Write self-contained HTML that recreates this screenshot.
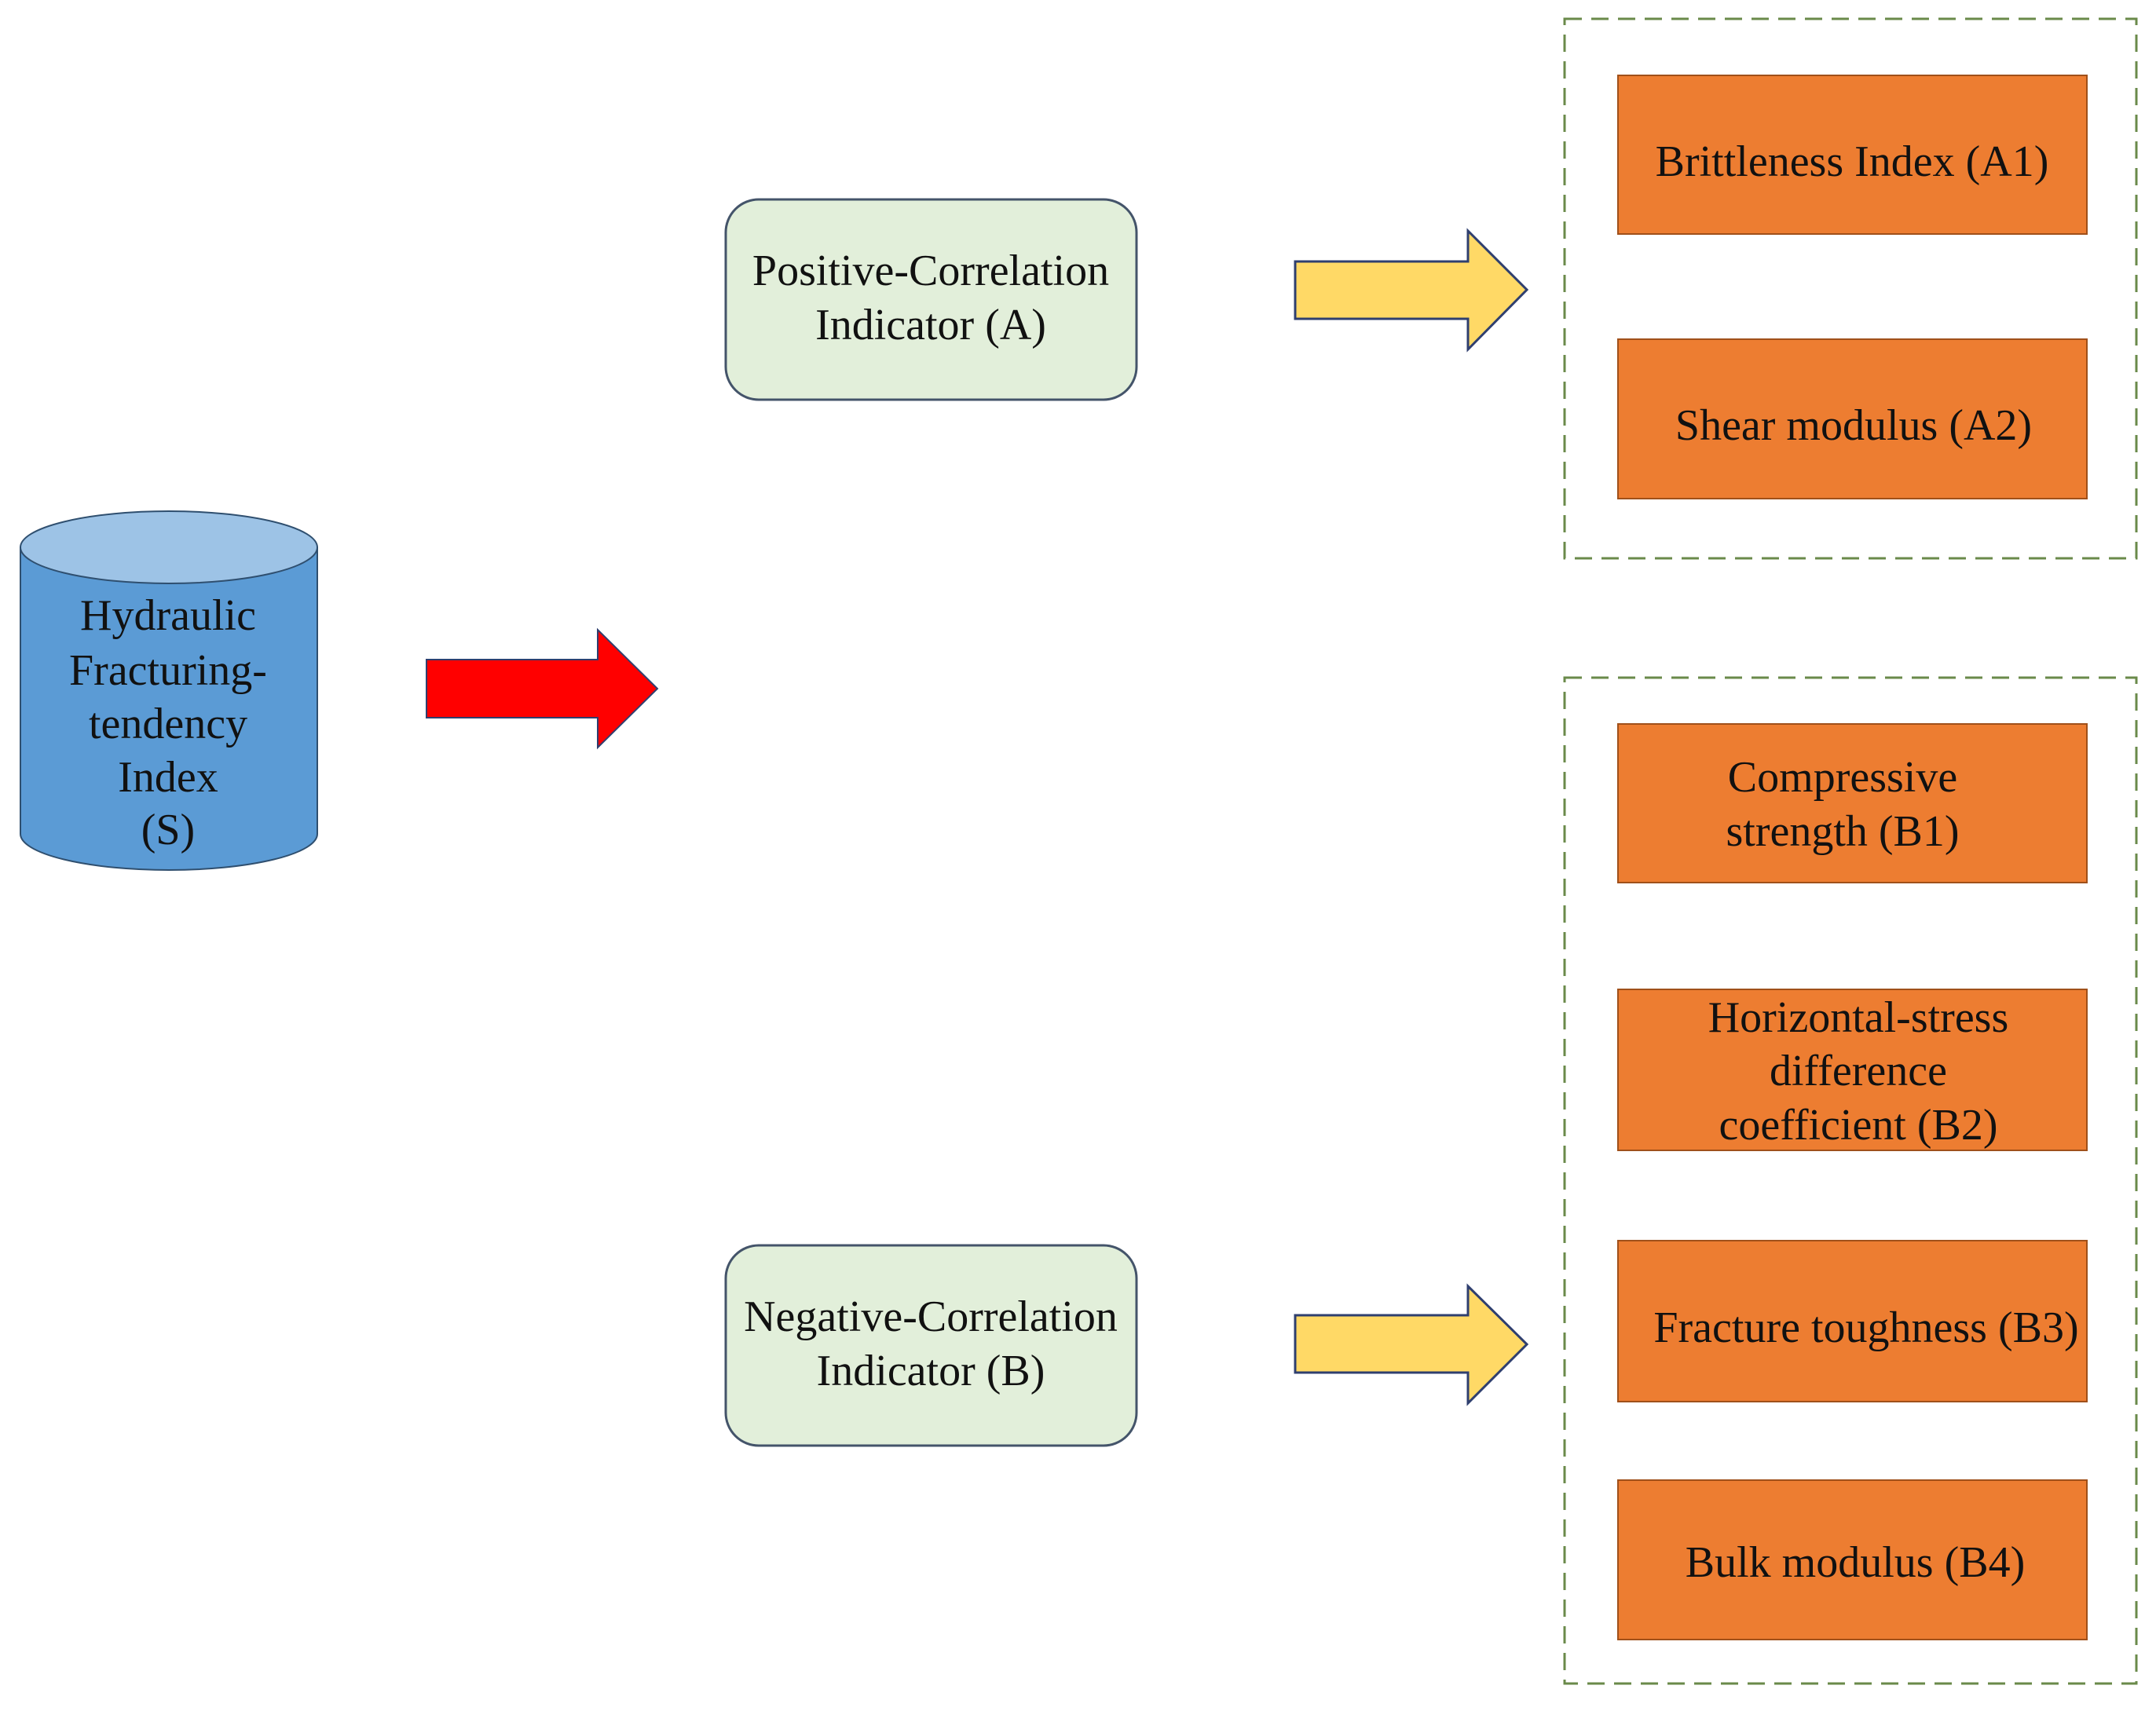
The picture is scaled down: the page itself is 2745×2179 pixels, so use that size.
<!DOCTYPE html>
<html><head><style>
body{margin:0;background:#fff}
svg text{font-family:"Liberation Serif",serif;font-size:56px;fill:#111;text-anchor:middle}
</style></head><body>
<svg width="2745" height="2174" xmlns="http://www.w3.org/2000/svg">
<!-- cylinder -->
<path d="M26 697 L26 1062 A189 46 0 0 0 404 1062 L404 697 Z" fill="#5b9bd5" stroke="#2f4f6f" stroke-width="2"/>
<ellipse cx="215" cy="697" rx="189" ry="46" fill="#9dc3e6" stroke="#2f4f6f" stroke-width="2"/>
<text x="214" y="802">Hydraulic</text>
<text x="214" y="872">Fracturing-</text>
<text x="214" y="940">tendency</text>
<text x="214" y="1008">Index</text>
<text x="214" y="1075">(S)</text>
<!-- red arrow -->
<polygon points="543,840 761,840 761,802 837,877 761,952 761,914 543,914" fill="#ff0000" stroke="#2f3f6f" stroke-width="2"/>
<!-- indicator boxes -->
<rect x="924" y="254" width="523" height="255" rx="42" fill="#e2efda" stroke="#44546a" stroke-width="3"/>
<text x="1185" y="363">Positive-Correlation</text>
<text x="1185" y="432">Indicator (A)</text>
<rect x="924" y="1586" width="523" height="255" rx="42" fill="#e2efda" stroke="#44546a" stroke-width="3"/>
<text x="1185" y="1695">Negative-Correlation</text>
<text x="1185" y="1764">Indicator (B)</text>
<!-- yellow arrows -->
<polygon points="1649,333 1869,333 1869,294 1944,369 1869,445 1869,406 1649,406" fill="#ffd966" stroke="#2f3f6f" stroke-width="3"/>
<polygon points="1649,1675 1869,1675 1869,1638 1944,1712 1869,1787 1869,1748 1649,1748" fill="#ffd966" stroke="#2f3f6f" stroke-width="3"/>
<!-- dashed boxes -->
<rect x="1992" y="24" width="728" height="687" fill="none" stroke="#6a8a4a" stroke-width="3" stroke-dasharray="22,12"/>
<rect x="1992" y="863" width="728" height="1281" fill="none" stroke="#6a8a4a" stroke-width="3" stroke-dasharray="22,12"/>
<!-- orange boxes -->
<g fill="#ed7d31" stroke="#a0501a" stroke-width="2">
<rect x="2060" y="96" width="597" height="202"/>
<rect x="2060" y="432" width="597" height="203"/>
<rect x="2060" y="922" width="597" height="202"/>
<rect x="2060" y="1260" width="597" height="205"/>
<rect x="2060" y="1580" width="597" height="205"/>
<rect x="2060" y="1885" width="597" height="203"/>
</g>
<text x="2358" y="224">Brittleness Index (A1)</text>
<text x="2360" y="560">Shear modulus (A2)</text>
<text x="2346" y="1008">Compressive</text>
<text x="2346" y="1077">strength (B1)</text>
<text x="2366" y="1314">Horizontal-stress</text>
<text x="2366" y="1382">difference</text>
<text x="2366" y="1451">coefficient (B2)</text>
<text x="2376" y="1709">Fracture toughness (B3)</text>
<text x="2362" y="2008">Bulk modulus (B4)</text>
</svg>
</body></html>
